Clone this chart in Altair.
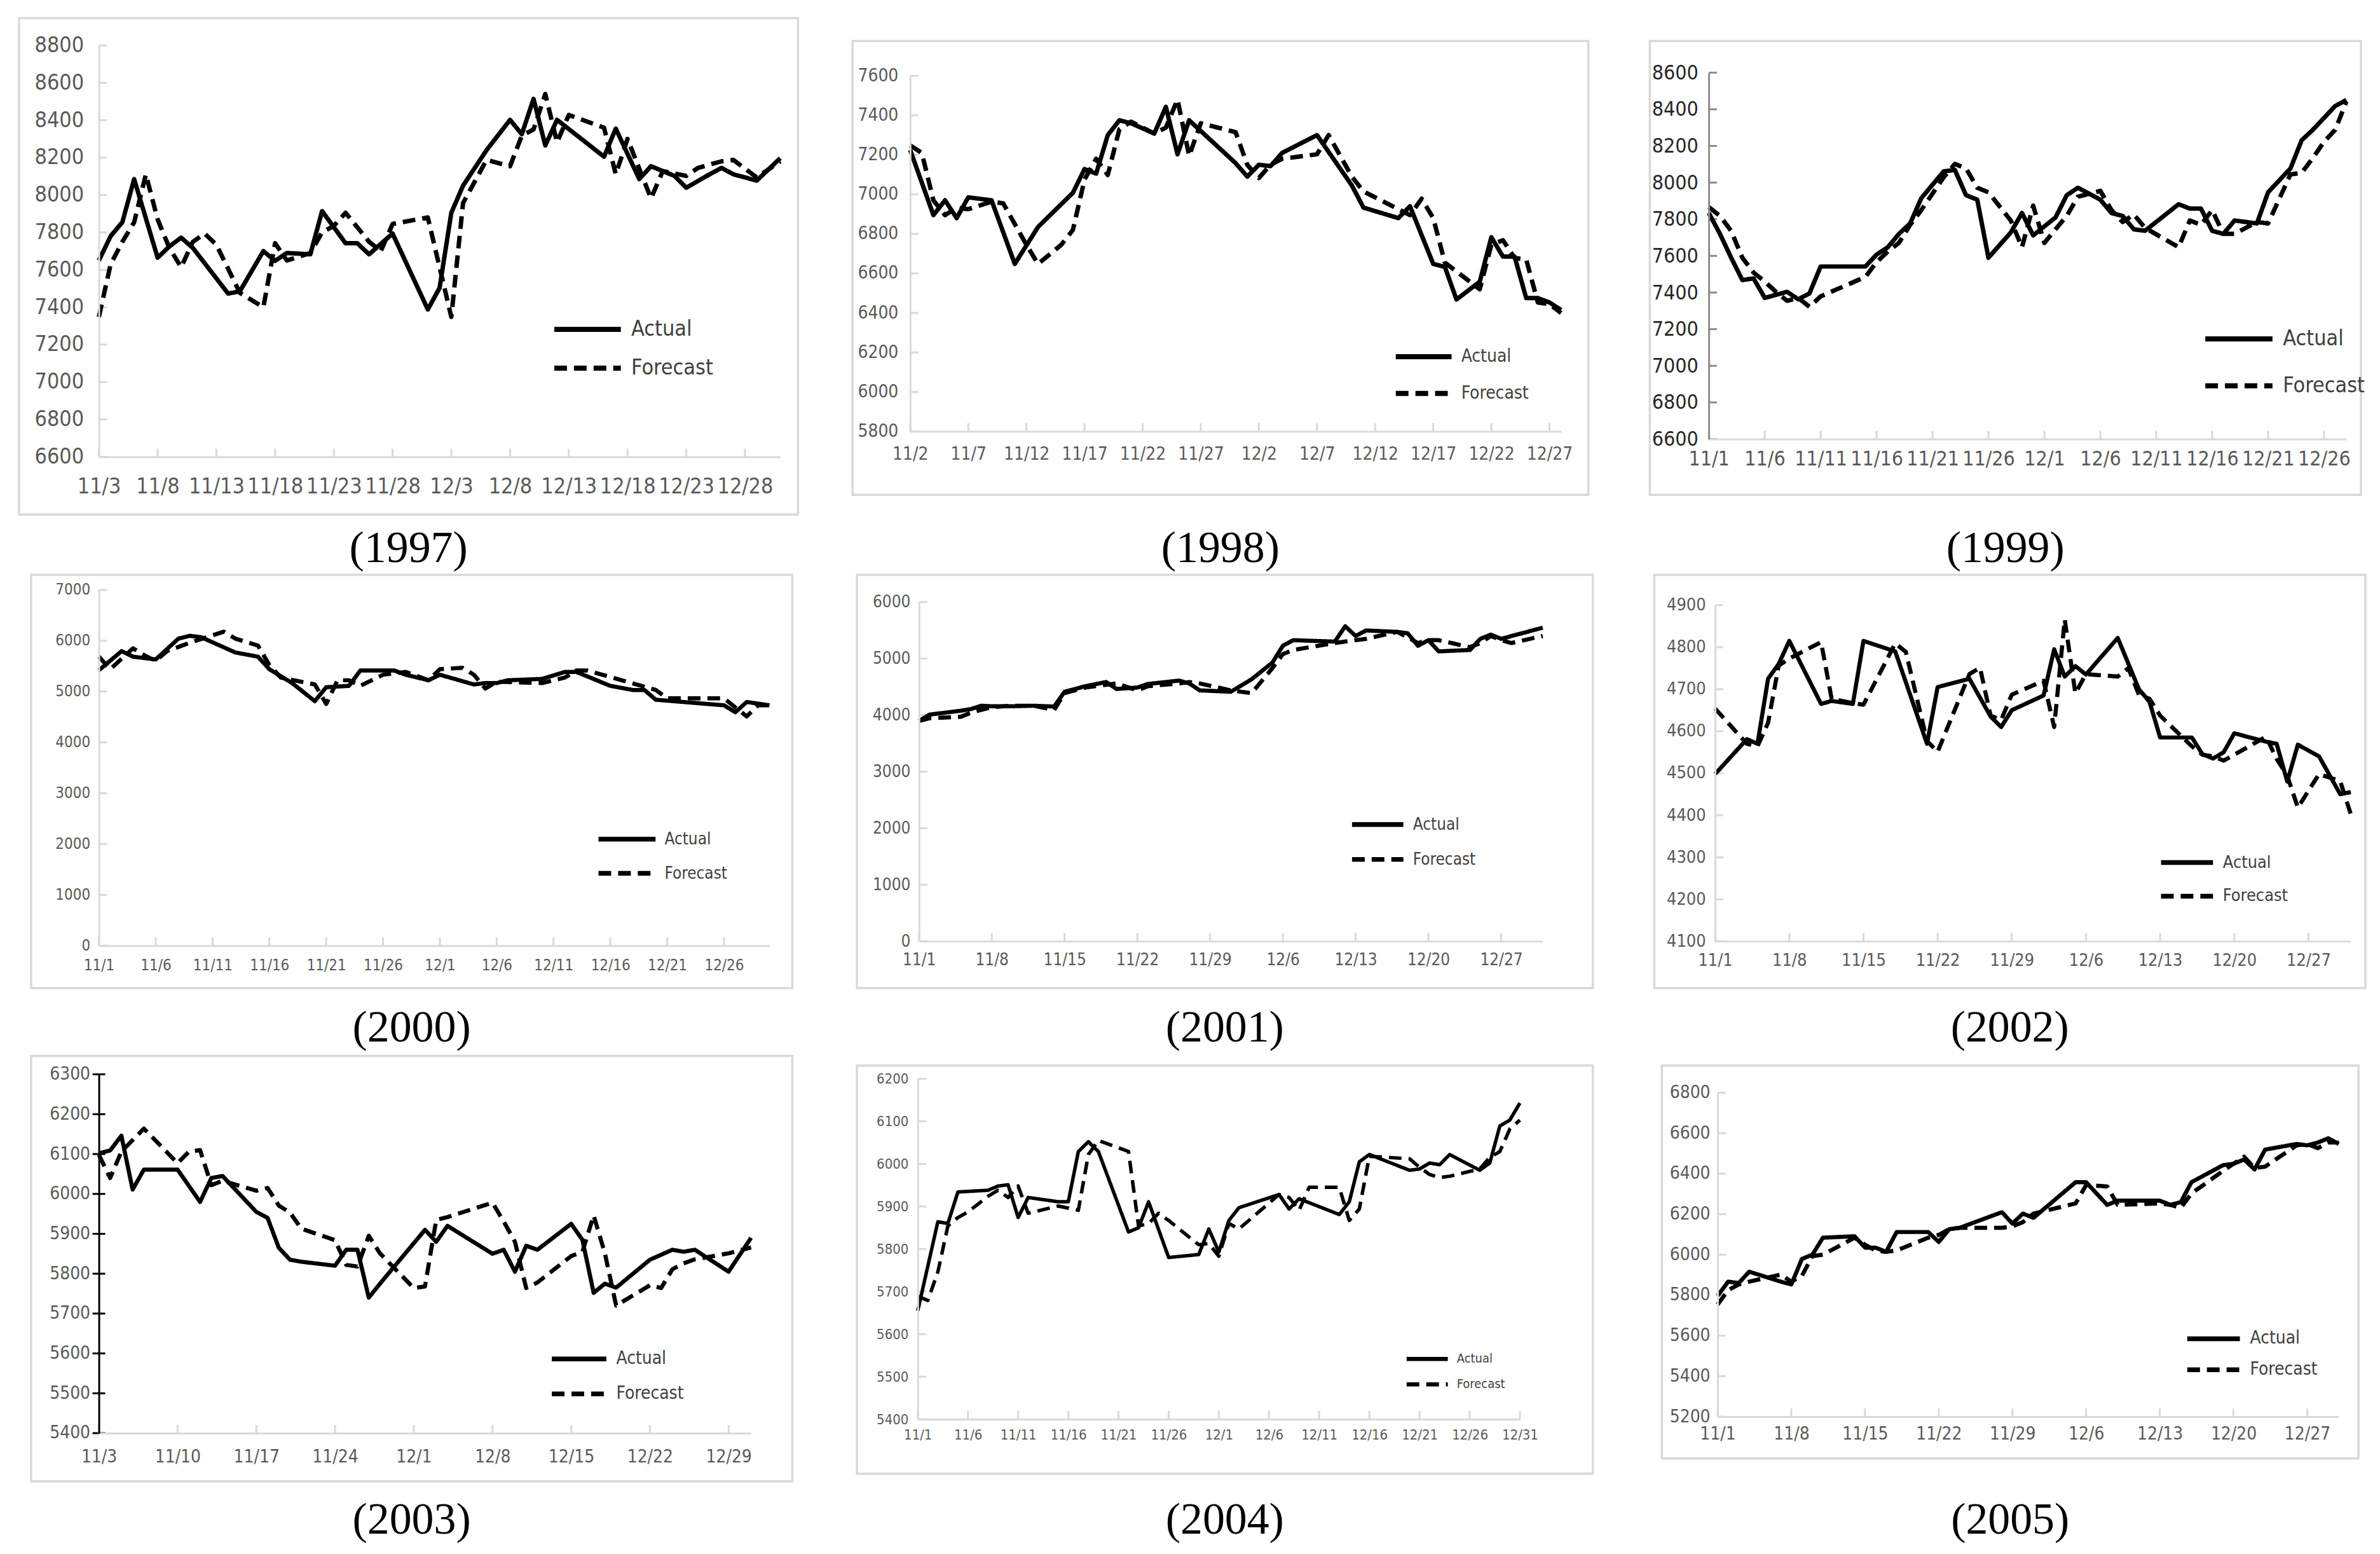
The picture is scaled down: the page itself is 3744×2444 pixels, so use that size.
import altair as alt
import pandas as pd

FONT = "DejaVu Sans Condensed, Liberation Sans Narrow, Liberation Sans, sans-serif"
SERIF = "Liberation Serif, DejaVu Serif, serif"

# ---------------- data (day offsets from first trading day shown, values) ----------------
START_DAY = {1997: 3, 1998: 2, 1999: 1, 2000: 1, 2001: 1, 2002: 1, 2003: 3, 2004: 1, 2005: 1}
END_DATE = {1997: (12, 31), 1998: (12, 28), 1999: (12, 28), 2000: (12, 30), 2001: (12, 31),
            2002: (12, 31), 2003: (12, 31), 2004: (12, 31), 2005: (12, 30)}

A1997_D = [0,1,2,3,5,6,7,8,11,12,14,15,16,18,19,21,22,23,25,28,29,30,31,33,35,36,37,38,39,43,44,46,47,49,50,52,53,54,56,58]
A1997_V = [7650,7780,7855,8085,7665,7725,7772,7717,7473,7485,7700,7648,7690,7683,7914,7742,7742,7683,7794,7388,7503,7905,8050,8240,8402,8325,8514,8265,8402,8205,8355,8085,8154,8102,8039,8111,8145,8111,8077,8197]
F1997_D = [0,1,2,3,4,5,6,7,8,9,10,12,14,15,16,18,19,20,21,23,24,25,28,29,30,31,33,35,36,37,38,39,40,43,44,45,47,48,50,51,53,54,56,58]
F1997_V = [7348,7630,7750,7854,8110,7870,7717,7614,7750,7794,7734,7477,7400,7742,7650,7690,7800,7835,7905,7750,7700,7845,7880,7614,7348,7957,8188,8154,8317,8351,8540,8282,8428,8360,8111,8300,7982,8128,8102,8145,8180,8188,8094,8180]

A1998_D = [0,2,3,4,5,7,9,11,14,15,16,17,18,19,21,22,23,24,28,29,30,31,32,35,38,39,42,43,45,46,47,49,50,51,52,53,54,55,56]
A1998_V = [7225,6895,6970,6880,6985,6970,6648,6835,7008,7128,7105,7300,7375,7360,7308,7443,7203,7375,7158,7090,7150,7143,7210,7300,7045,6933,6880,6940,6648,6633,6468,6558,6783,6685,6685,6475,6475,6453,6415]
F1998_D = [0,1,2,3,4,5,7,8,10,11,13,14,15,16,17,18,19,20,21,22,23,24,25,28,29,30,31,32,35,36,38,39,42,43,44,45,46,47,49,50,51,52,53,54,55,56]
F1998_V = [7248,7210,6970,6895,6933,6925,6963,6955,6745,6648,6745,6820,7075,7180,7098,7330,7368,7338,7308,7338,7480,7195,7360,7315,7150,7083,7150,7180,7203,7300,7090,7015,6925,6895,6978,6880,6655,6610,6520,6745,6768,6678,6670,6453,6445,6400]

A1999_D = [0,1,2,3,4,5,6,7,8,9,10,14,15,16,17,18,19,21,22,23,24,25,27,28,29,31,32,33,35,36,37,38,39,42,43,44,45,46,47,49,50,52,53,54,55,56,57]
A1999_V = [7834,7720,7590,7468,7477,7371,7387,7404,7363,7395,7542,7542,7607,7647,7720,7777,7915,8061,8069,7931,7907,7590,7728,7834,7712,7810,7931,7972,7907,7834,7818,7745,7737,7882,7858,7858,7737,7720,7793,7777,7947,8077,8231,8288,8353,8418,8451]
F1999_D = [0,1,2,3,4,5,6,7,8,9,10,14,15,16,17,18,19,21,22,23,24,25,27,28,29,30,31,32,33,35,36,37,38,39,42,43,44,45,46,47,49,50,52,53,54,55,56,57]
F1999_V = [7866,7818,7736,7590,7509,7460,7404,7355,7371,7322,7379,7485,7566,7623,7671,7769,7850,8029,8102,8077,7972,7947,7793,7647,7874,7671,7745,7818,7923,7955,7850,7785,7826,7753,7647,7793,7769,7850,7720,7720,7785,7777,8045,8053,8134,8223,8288,8443]

A2000_D = [0,2,3,4,5,7,8,9,12,14,15,17,19,20,22,23,26,27,29,30,33,34,35,36,39,41,42,45,47,48,49,52,55,56,57,59]
A2000_V = [5420,5797,5687,5660,5633,6043,6098,6070,5770,5687,5440,5168,4812,5086,5113,5414,5414,5332,5223,5332,5140,5168,5168,5223,5250,5387,5387,5113,5031,5031,4840,4785,4730,4594,4796,4730]
F2000_D = [0,1,3,4,5,6,8,11,12,14,15,16,19,20,21,22,23,25,27,29,30,32,33,34,35,39,41,42,43,46,49,50,55,57,58,59]
F2000_V = [5687,5440,5852,5715,5605,5797,5961,6180,6043,5906,5523,5277,5140,4758,5223,5223,5113,5332,5387,5223,5441,5469,5332,5059,5195,5168,5277,5414,5414,5223,5031,4867,4867,4512,4730,4730]

A2001_D = [0,1,4,5,6,7,9,11,13,14,16,18,19,21,22,25,26,27,30,32,34,35,36,40,41,42,43,46,47,48,49,50,53,54,55,56,60]
A2001_V = [3895,4008,4077,4107,4166,4156,4156,4166,4151,4413,4511,4585,4462,4487,4550,4610,4560,4437,4413,4634,4930,5226,5325,5300,5571,5399,5497,5472,5448,5226,5325,5127,5152,5349,5423,5349,5546]
F2001_D = [0,1,4,5,6,7,9,11,13,14,16,18,19,21,22,25,26,27,30,32,34,35,36,40,41,42,43,46,47,48,49,50,53,54,55,56,57,60]
F2001_V = [3895,3944,3969,4043,4092,4141,4166,4166,4092,4388,4487,4536,4560,4437,4511,4560,4585,4560,4437,4388,4832,5078,5152,5275,5300,5325,5349,5472,5374,5275,5325,5325,5201,5275,5399,5325,5275,5399]

A2002_D = [0,3,4,5,6,7,10,11,13,14,17,20,21,24,26,27,28,31,32,33,34,35,38,40,41,42,45,46,47,48,49,52,53,54,55,57,59,60]
A2002_V = [4498,4581,4570,4725,4760,4815,4665,4672,4665,4815,4790,4570,4705,4725,4635,4610,4650,4685,4795,4730,4755,4735,4822,4700,4670,4585,4585,4545,4535,4550,4595,4575,4570,4480,4568,4540,4450,4455]
F2002_D = [0,3,4,5,6,7,10,11,13,14,17,18,20,21,24,25,26,27,28,31,32,33,34,35,38,39,40,41,42,45,46,47,48,49,52,53,54,55,57,59,60]
F2002_V = [4654,4570,4564,4620,4756,4773,4812,4677,4667,4663,4809,4789,4577,4551,4736,4751,4637,4627,4687,4720,4610,4866,4690,4736,4730,4750,4687,4677,4637,4564,4544,4540,4530,4544,4587,4534,4494,4418,4498,4481,4402]

A2003_D = [0,1,2,3,4,7,9,10,11,14,15,16,17,18,21,22,23,24,25,29,30,31,35,36,37,38,39,42,43,44,45,46,49,51,52,53,56,58]
A2003_V = [6102,6109,6146,6011,6061,6061,5980,6040,6045,5955,5940,5865,5835,5830,5820,5860,5860,5740,5775,5910,5880,5920,5850,5860,5805,5870,5860,5925,5885,5752,5775,5765,5835,5860,5855,5860,5805,5890]
F2003_D = [0,1,2,3,4,7,8,9,10,11,14,15,16,17,18,21,22,23,24,25,28,29,30,31,35,36,37,38,39,42,43,44,45,46,49,50,51,52,53,56,58]
F2003_V = [6098,6040,6106,6135,6164,6077,6106,6110,6022,6033,6008,6015,5971,5953,5913,5884,5822,5818,5895,5851,5764,5768,5935,5942,5978,5931,5880,5764,5778,5844,5855,5946,5851,5720,5771,5764,5811,5826,5836,5851,5866]

A2004_D = [0,2,3,4,7,8,9,10,11,14,15,16,17,18,21,22,23,25,28,29,30,31,32,36,37,38,42,43,44,45,49,50,51,52,53,56,57,58,59,60]
A2004_V = [5655,5864,5860,5934,5938,5948,5951,5874,5921,5911,5911,6029,6052,6029,5840,5850,5911,5780,5787,5847,5793,5867,5897,5928,5894,5918,5881,5911,6005,6022,5985,5988,6002,5998,6022,5985,6002,6089,6103,6143]
F2004_D = [0,1,2,3,4,5,7,8,9,10,11,14,16,17,18,21,22,23,24,25,28,29,30,31,32,36,37,38,39,42,43,44,45,49,50,51,52,53,56,57,58,59,60]
F2004_V = [5689,5679,5746,5854,5874,5887,5924,5938,5921,5948,5884,5901,5891,6022,6055,6029,5854,5860,5884,5867,5810,5813,5783,5860,5847,5928,5921,5891,5945,5945,5867,5894,6018,6012,5992,5975,5968,5971,5988,6015,6029,6082,6103]

A2005_D = [0,1,2,3,6,7,8,9,10,13,14,15,16,17,20,21,22,23,27,28,29,30,34,35,37,38,42,43,44,45,48,49,50,51,52,55,56,57,58,59]
A2005_V = [5797,5867,5860,5916,5867,5853,5979,6000,6084,6091,6035,6035,6014,6112,6112,6063,6126,6133,6210,6154,6203,6182,6358,6358,6246,6267,6267,6246,6260,6358,6442,6449,6470,6421,6519,6547,6540,6554,6575,6547]
F2005_D = A2005_D
F2005_V = [5754,5825,5853,5867,5902,5867,5895,5993,6000,6084,6049,6021,6014,6021,6084,6098,6126,6133,6133,6140,6161,6203,6253,6344,6337,6246,6253,6246,6232,6302,6414,6449,6484,6428,6435,6540,6547,6526,6554,6554]

# tick labels
XT_5A = ["11/3","11/8","11/13","11/18","11/23","11/28","12/3","12/8","12/13","12/18","12/23","12/28"]
XT_5B = ["11/2","11/7","11/12","11/17","11/22","11/27","12/2","12/7","12/12","12/17","12/22","12/27"]
XT_5C = ["11/1","11/6","11/11","11/16","11/21","11/26","12/1","12/6","12/11","12/16","12/21","12/26"]
XT_5D = XT_5C + ["12/31"]
XT_7A = ["11/1","11/8","11/15","11/22","11/29","12/6","12/13","12/20","12/27"]
XT_7B = ["11/3","11/10","11/17","11/24","12/1","12/8","12/15","12/22","12/29"]

YT = {
    1997: list(range(6600, 8801, 200)),
    1998: list(range(5800, 7601, 200)),
    1999: list(range(6600, 8601, 200)),
    2000: list(range(0, 7001, 1000)),
    2001: list(range(0, 6001, 1000)),
    2002: list(range(4100, 4901, 100)),
    2003: list(range(5400, 6301, 100)),
    2004: list(range(5400, 6201, 100)),
    2005: list(range(5200, 6801, 200)),
}

SERIES = {
    1997: (A1997_D, A1997_V, F1997_D, F1997_V, XT_5A),
    1998: (A1998_D, A1998_V, F1998_D, F1998_V, XT_5B),
    1999: (A1999_D, A1999_V, F1999_D, F1999_V, XT_5C),
    2000: (A2000_D, A2000_V, F2000_D, F2000_V, XT_5C),
    2001: (A2001_D, A2001_V, F2001_D, F2001_V, XT_7A),
    2002: (A2002_D, A2002_V, F2002_D, F2002_V, XT_7A),
    2003: (A2003_D, A2003_V, F2003_D, F2003_V, XT_7B),
    2004: (A2004_D, A2004_V, F2004_D, F2004_V, XT_5D),
    2005: (A2005_D, A2005_V, F2005_D, F2005_V, XT_7A),
}

# ---------------- layout (page pixel positions) ----------------
ROWS = [[1997, 1998, 1999], [2000, 2001, 2002], [2003, 2004, 2005]]
LAYOUT = {
    1997: dict(plot=(155, 67, 1075, 649), box=(29, 24, 1258, 807), cell=(8, 8, 1295, 897), cap=882,
               fs=34, ylp=24, xlp=30, leg=(716, 448, 105, 61, 34), lw=7),
    1998: dict(plot=(1433, 115, 1027, 561), box=(1342, 60, 2503, 776), cell=(1295, 8, 2560, 897), cap=882,
               fs=28, ylp=19, xlp=22, leg=(765, 443, 88, 54, 28), lw=7),
    1999: dict(plot=(2691, 110, 1006, 578), box=(2598, 60, 3720, 776), cell=(2560, 8, 3734, 897), cap=882,
               fs=32, ylp=17, xlp=16, leg=(781, 420, 106, 74, 34), lw=7, ycol="#8c8c8c", ylab="#262626"),
    2000: dict(plot=(148, 924, 1058, 561), box=(41, 900, 1242, 1552), cell=(8, 897, 1295, 1654), cap=1636,
               fs=24, ylp=14, xlp=19, leg=(788, 393, 90, 50, 26), lw=6.5),
    2001: dict(plot=(1440, 943, 984, 535), box=(1342, 900, 2503, 1552), cell=(1295, 897, 2560, 1654), cap=1636,
               fs=26, ylp=14, xlp=16, leg=(682, 351, 81, 51, 26), lw=6.5),
    2002: dict(plot=(2694, 948, 1003, 530), box=(2598, 900, 3720, 1552), cell=(2560, 897, 3734, 1654), cap=1636,
               fs=27, ylp=15, xlp=17, leg=(702, 406, 82, 49, 27), lw=6.5),
    2003: dict(plot=(148, 1686, 1029, 566), box=(41, 1657, 1242, 2328), cell=(8, 1654, 1295, 2432), cap=2411,
               fs=28, ylp=14, xlp=24, leg=(713, 449, 86, 53, 28), lw=6.5, ycol="#000000", cross=True),
    2004: dict(plot=(1438, 1693, 950, 537), box=(1342, 1672, 2503, 2316), cell=(1295, 1654, 2560, 2432), cap=2411,
               fs=22, ylp=15, xlp=15, leg=(771, 442, 65, 34, 20), lw=5.5),
    2005: dict(plot=(2698, 1715, 980, 511), box=(2610, 1672, 3709, 2292), cell=(2560, 1654, 3734, 2432), cap=2411,
               fs=28, ylp=12, xlp=14, leg=(739, 388, 83, 47, 28), lw=6.5),
}

GRID = "#d9d9d9"
LABEL = "#595959"


def md(s):
    m, d = s.split("/")
    return int(m), int(d)


def panel(year, oy):
    """oy: common view origin (page y) shared by the panels of this row."""
    a_d, a_v, f_d, f_v, xt = SERIES[year]
    L = LAYOUT[year]
    base = pd.Timestamp(year=year, month=11, day=START_DAY[year])

    def to_dates(days):
        return [(base + pd.Timedelta(days=int(d))).strftime("%Y-%m-%dT00:00:00") for d in days]

    df = pd.DataFrame({
        "date": to_dates(a_d) + to_dates(f_d),
        "value": a_v + f_v,
        "series": ["Actual"] * len(a_v) + ["Forecast"] * len(f_v),
    })
    px, py, pw, ph = L["plot"]
    top = py - oy                # plot top inside the view
    vh = top + ph                # view height (x axis at the bottom)
    bx0, by0, bx1, by1 = L["box"]
    cx0, cy0, cx1, cy1 = L["cell"]
    fs = L["fs"]
    lw = L["lw"]
    ycol = L.get("ycol", GRID)
    ylab = L.get("ylab", LABEL)

    tick_dt = [alt.DateTime(year=year, month=md(t)[0], date=md(t)[1]) for t in xt]
    em, ed = END_DATE[year]
    x_scale = alt.Scale(domain=[alt.DateTime(year=year, month=11, date=START_DAY[year]),
                                alt.DateTime(year=year, month=em, date=ed)], nice=False)
    yt = YT[year]
    y_scale = alt.Scale(domain=[yt[0], yt[-1]], range=[vh, top], nice=False, zero=False)

    x_axis = alt.Axis(values=tick_dt, format="%-m/%-d", title=None, grid=False,
                      ticks=False, tickSize=0, labelFont=FONT, labelFontSize=fs,
                      labelColor=LABEL, labelPadding=L["xlp"], labelFlush=False,
                      labelOverlap=False, labelBound=False, zindex=1,
                      domainColor=GRID, domainWidth=3)
    y_axis = alt.Axis(values=yt, format="d", title=None, grid=False, ticks=False,
                      tickSize=0, labelFont=FONT, labelFontSize=fs, labelColor=ylab, zindex=1,
                      labelPadding=L["ylp"], domainColor=ycol, domainWidth=3)

    one = pd.DataFrame({"k": [0]})
    cell = alt.Chart(one).mark_rect(fill="transparent", strokeWidth=0).encode(
        x=alt.value(cx0 - px), x2=alt.value(cx1 - px), y=alt.value(cy0 - oy), y2=alt.value(cy1 - oy))
    frame = alt.Chart(one).mark_rect(fill="transparent", stroke=GRID, strokeWidth=3.5).encode(
        x=alt.value(bx0 - px), x2=alt.value(bx1 - px), y=alt.value(by0 - oy), y2=alt.value(by1 - oy))

    xt_df = pd.DataFrame({"t": [f"{year}-{md(t)[0]:02d}-{md(t)[1]:02d}T00:00:00" for t in xt]})
    xticks = alt.Chart(xt_df).mark_rule(color=GRID, strokeWidth=3).encode(
        x=alt.X("t:T", scale=x_scale, axis=x_axis), y=alt.value(vh), y2=alt.value(vh - 13))
    yt_df = pd.DataFrame({"v": yt})
    tx0, tx1 = (-10, 10) if L.get("cross") else (0, 13)
    yticks = alt.Chart(yt_df).mark_rule(color=ycol, strokeWidth=3).encode(
        y=alt.Y("v:Q", scale=y_scale, axis=y_axis), x=alt.value(tx0), x2=alt.value(tx1))

    lx, ly, sl, sp, lfs = L["leg"]
    s = sl / 5.0
    w = s + lw + 1
    legend = alt.Legend(
        orient="none", legendX=lx - w / 2 + sl / 2, legendY=ly + top - lfs / 2, title=None,
        direction="vertical", symbolType="M-5,0H5", symbolSize=s * s,
        symbolStrokeWidth=lw + 1, symbolStrokeColor="black",
        labelFont=FONT, labelFontSize=lfs, labelColor="#404040",
        rowPadding=max(sp - lfs, 0), labelOffset=sl / 2 + 14 - w / 2, padding=0,
    )

    lines = alt.Chart(df).mark_line(color="black", strokeWidth=lw, strokeJoin="round").encode(
        x=alt.X("date:T", scale=x_scale, axis=x_axis),
        y=alt.Y("value:Q", scale=y_scale, axis=y_axis),
        strokeDash=alt.StrokeDash("series:N",
                                  scale=alt.Scale(domain=["Actual", "Forecast"], range=[[1, 0], [20, 11]]),
                                  legend=legend),
    )

    caption = alt.Chart(one).mark_text(font=SERIF, fontSize=70, color="black", align="center",
                                       baseline="alphabetic").encode(
        x=alt.value((bx0 + bx1) / 2 - px), y=alt.value(L["cap"] - oy), text=alt.value(f"({year})"))

    return alt.layer(cell, frame, yticks, xticks, lines, caption).properties(width=pw, height=vh)


def row(years):
    oy = min(LAYOUT[y]["plot"][1] for y in years)
    return alt.hconcat(*[panel(y, oy) for y in years], spacing=0).resolve_scale(
        x="independent", y="independent", strokeDash="independent").resolve_legend(strokeDash="independent")


chart = alt.vconcat(*[row(r) for r in ROWS], spacing=0).resolve_scale(
    x="independent", y="independent", strokeDash="independent").resolve_legend(
    strokeDash="independent").properties(padding=0, background="white").configure_view(
    stroke="transparent")

chart.save("out.html", embed_options={"renderer": "svg", "actions": False})
